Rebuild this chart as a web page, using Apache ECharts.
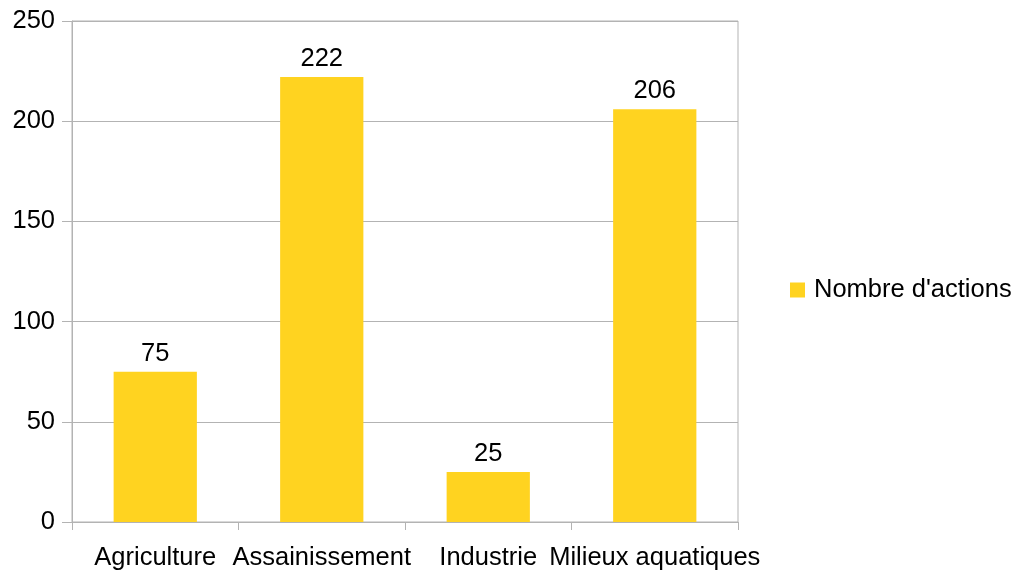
<!DOCTYPE html>
<html>
<head>
<meta charset="utf-8">
<script src="https://cdn.jsdelivr.net/npm/echarts@6/dist/echarts.min.js"></script>
<style>
  html, body { margin: 0; padding: 0; background: #fff; }
  #chart { width: 1017px; height: 571px; }
</style>
</head>
<body>
<div id="chart"></div>
<script>
const categories = ['Agriculture', 'Assainissement', 'Industrie', 'Milieux aquatiques']
const actions = [75, 222, 25, 206]
const seriesName = "Nombre d'actions"

const font = 'Liberation Sans, Arial, sans-serif'
const gridColor = '#b3b3b3'
const fs = 25.5

const chart = echarts.init(document.getElementById('chart'))
chart.setOption({
  animation: false,
  textStyle: { fontFamily: font },
  legend: {
    data: [seriesName],
    orient: 'vertical',
    left: 785,
    top: 272,
    itemWidth: 15,
    itemHeight: 15,
    itemGap: 8,
    icon: 'rect',
    textStyle: { fontSize: fs, color: '#000', fontFamily: font, padding: [0, 0, 0, 4] }
  },
  grid: {
    left: 72,
    right: 279,
    top: 21,
    bottom: 48,
    show: true,
    borderColor: gridColor,
    borderWidth: 1
  },
  xAxis: {
    type: 'category',
    data: categories,
    axisLine: { lineStyle: { color: gridColor } },
    axisTick: { show: true, length: 8, lineStyle: { color: gridColor } },
    axisLabel: { fontSize: fs, color: '#000', margin: 23, interval: 0, fontFamily: font }
  },
  yAxis: {
    type: 'value',
    min: 0,
    max: 250,
    interval: 50,
    axisLine: { show: true, lineStyle: { color: gridColor } },
    axisTick: { show: true, length: 10, lineStyle: { color: gridColor } },
    splitLine: { lineStyle: { color: gridColor } },
    axisLabel: { fontSize: fs, color: '#000', margin: 17, fontFamily: font }
  },
  series: [{
    name: seriesName,
    type: 'bar',
    data: actions,
    barWidth: '50%',
    itemStyle: { color: '#ffd320' },
    label: {
      show: true,
      position: 'top',
      distance: 5,
      fontSize: fs,
      color: '#000',
      fontFamily: font
    }
  }]
})
</script>
</body>
</html>
